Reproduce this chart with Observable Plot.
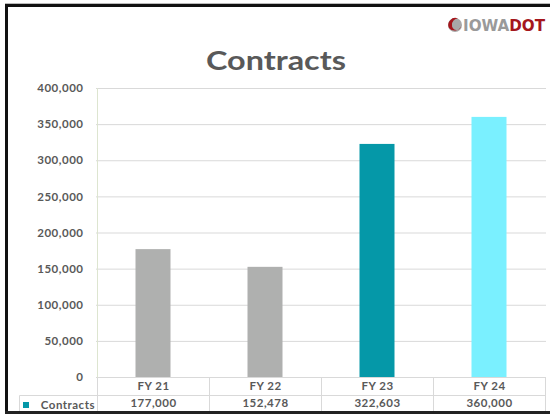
<!DOCTYPE html>
<html>
<head>
<meta charset="utf-8">
<script src="https://cdn.jsdelivr.net/npm/d3@7"></script>
<script src="https://cdn.jsdelivr.net/npm/@observablehq/plot@0.6"></script>
<style>
  html, body { margin: 0; padding: 0; background: #fff; }
  #wrap { position: relative; width: 550px; height: 414px; overflow: hidden; }
  #wrap > svg { position: absolute; left: 0; top: 0; }
</style>
</head>
<body>
<div id="wrap"></div>
<script>
// ---- data ----
const categories = ["FY 21", "FY 22", "FY 23", "FY 24"];
const contracts = [177000, 152478, 322603, 360000];
const barColors = ["#afb0af", "#afb0af", "#0598a8", "#7af0ff"];
const seriesName = "Contracts";
const seriesColor = "#0598a8";
const yTicks = [0, 50000, 100000, 150000, 200000, 250000, 300000, 350000, 400000];
const titleText = "Contracts";

const rows = categories.map((c, i) => ({cat: c, value: contracts[i], color: barColors[i]}));
const fmt = d3.format(",");
const textColor = "#595959";

const tableMark = (index, scales, values, dims) => {
  const x = scales.x, y0 = scales.y(0) + 0.5;
  const right = dims.width - dims.marginRight;
  const g = d3.create("svg:g").attr("stroke", "#d9d9d9").attr("fill", "none");
  const xs = categories.map(c => Math.round(x(c)) + 0.5).concat([right - 0.5]);
  xs.forEach(v => g.append("line").attr("x1", v).attr("x2", v).attr("y1", y0).attr("y2", y0 + 34));
  const sep = Math.round(y0 + 17) + 0.5;
  g.append("line").attr("x1", 19.5).attr("x2", right).attr("y1", sep).attr("y2", sep);
  g.append("line").attr("x1", 19.5).attr("x2", 19.5).attr("y1", sep).attr("y2", y0 + 34);
  g.append("line").attr("x1", xs[0]).attr("x2", xs[0]).attr("y1", scales.y(400000)).attr("y2", y0).attr("stroke", "#dde5d0");
  g.append("rect").attr("x", 23).attr("y", sep + 6.5).attr("width", 6).attr("height", 6)
    .attr("fill", seriesColor).attr("stroke", "none");
  g.append("text").attr("x", 95).attr("y", sep + 9).attr("dy", "0.35em")
    .attr("text-anchor", "end").attr("fill", textColor).attr("stroke", "none")
    .attr("font-size", 11.5).text(seriesName);
  return g.node();
};

const chart = Plot.plot({
  width: 550,
  height: 414,
  marginTop: 88,
  marginBottom: 37,
  marginLeft: 96,
  marginRight: 4,
  style: {fontFamily: "Lato, 'Open Sans', sans-serif", fontSize: "11px", fontWeight: "bold", letterSpacing: "0.5px", color: textColor, background: "transparent", overflow: "visible"},
  x: {domain: categories, padding: 0, axis: null},
  y: {domain: [0, 400000], axis: null},
  marks: [
    Plot.gridY(yTicks, {stroke: "#d9d9d9", strokeOpacity: 1}),
    Plot.axisY(yTicks, {tickFormat: fmt, tickSize: 0, tickPadding: 13, fill: textColor, fontWeight: "bold", fontSize: 11.5, label: null}),
    Plot.barY(rows, {x: "cat", y: "value", fill: "color", insetLeft: 38.5, insetRight: 38.5}),
    tableMark,
    Plot.text(rows, {x: "cat", y: () => 0, text: "cat", dy: 9, fill: textColor, fontSize: 11.5, lineAnchor: "middle"}),
    Plot.text(rows, {x: "cat", y: () => 0, text: d => fmt(d.value), dy: 26, fill: textColor, fontSize: 11.5, lineAnchor: "middle"})
  ]
});
document.getElementById("wrap").appendChild(chart);

// overlay: title, logo, border
const ov = d3.select("#wrap").append("svg").attr("width", 550).attr("height", 414);
ov.append("text").attr("x", 276).attr("y", 70).attr("text-anchor", "middle")
  .attr("font-family", "Lato, 'Open Sans', sans-serif").attr("font-weight", "bold")
  .attr("font-size", 27).attr("textLength", 140).attr("lengthAdjust", "spacingAndGlyphs")
  .attr("fill", textColor).text(titleText);
// logo
const lg = ov.append("g");
lg.append("circle").attr("cx", 455).attr("cy", 25).attr("r", 7).attr("fill", "#a8a8a8");
lg.append("path").attr("d", "M449,28 A7,7 0 0 1 458,18.5 A6,6 0 0 0 452,25 A4,4 0 0 0 461,26 A7,7 0 0 1 449,28 Z").attr("fill", "#a5161c");
const lt = lg.append("text").attr("x", 463).attr("y", 31)
  .attr("font-family", "'Liberation Sans Narrow', 'DejaVu Sans Condensed', 'Liberation Sans', sans-serif")
  .attr("font-weight", "bold").attr("font-size", 16).attr("textLength", 82).attr("lengthAdjust", "spacingAndGlyphs");
lt.append("tspan").attr("fill", "#9a9a9a").text("IOWA");
lt.append("tspan").attr("fill", "#a5161c").text("DOT");
// border
ov.append("rect").attr("x", 5).attr("y", 3).attr("width", 545).attr("height", 1).attr("fill", "#bbb");
ov.append("rect").attr("x", 5).attr("y", 4).attr("width", 545).attr("height", 3).attr("fill", "#111");
ov.append("rect").attr("x", 5).attr("y", 4).attr("width", 3).attr("height", 410).attr("fill", "#111");
ov.append("rect").attr("x", 5).attr("y", 411).attr("width", 545).attr("height", 3).attr("fill", "#222");
</script>
</body>
</html>
